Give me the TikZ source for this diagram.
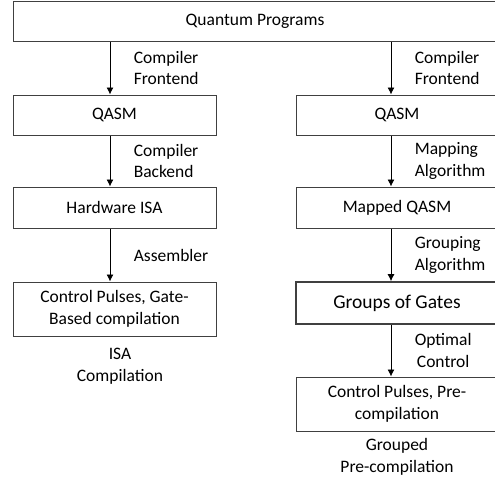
\documentclass[tikz,border=0pt]{standalone}
\usepackage{fontspec}
\setmainfont{Carlito}
\usetikzlibrary{arrows.meta}
\definecolor{edgegray}{HTML}{404040}
\tikzset{
	box/.style={draw=edgegray, line width=1pt, minimum height=40pt, inner sep=0pt, align=center,
		font=\fontsize{17.5}{21.5}\selectfont},
	flow/.style={draw=black, line width=0.9pt, -{Latex[length=7pt,width=7pt]}},
	steplabel/.style={midway, right=20pt, align=left, font=\fontsize{17.5}{21.5}\selectfont}
}

\begin{document}
\begin{tikzpicture}[x=1pt, y=-1pt]
			%%%%% START %%%%%
			\useasboundingbox (0, 0) rectangle (495, 480);
			\clip (0, 0) rectangle (495, 480);
			
			\node[box, minimum width=484pt] (prog) at (255, 21) {Quantum Programs};
			
			% ISA compilation
			\node[box, minimum width=203pt] (qasmL) at (114.5, 115) {QASM};
			\node[box, minimum width=203pt, minimum height=41pt] (isaL) at (114.5, 207.5) {Hardware ISA};
			\node[box, minimum width=203pt, minimum height=54pt] (pulseL) at (114.5, 309) {Control Pulses, Gate-\\Based compilation};
			\node[align=center, font=\fontsize{17.5}{21.5}\selectfont] (isacomp) at (120, 366) {ISA\\Compilation};
			
			% grouped pre-compilation
			\node[box, minimum width=202pt] (qasmR) at (397, 115) {QASM};
			\node[box, minimum width=202pt, minimum height=41pt] (mapR) at (397, 207.5) {Mapped QASM};
			\node[box, minimum width=202pt, minimum height=42pt, line width=1.6pt,
				font=\fontsize{19.5}{23}\selectfont] (groupsR) at (397, 303) {Groups of Gates};
			\node[box, minimum width=202pt, minimum height=54pt] (pulseR) at (397, 404) {Control Pulses, Pre-\\compilation};
			\node[align=center, font=\fontsize{17.5}{21.5}\selectfont] (grpcomp) at (397, 457) {Grouped\\Pre-compilation};
			
			\draw[flow] ([xshift=-4.5pt]qasmL.north |- prog.south) -- ([xshift=-4.5pt]qasmL.north)
				node[steplabel] {Compiler\\Frontend};
			\draw[flow] ([xshift=-4.5pt]qasmL.south) -- ([xshift=-4.5pt]isaL.north)
				node[steplabel] {Compiler\\Backend};
			\draw[flow] ([xshift=-4.5pt]isaL.south) -- ([xshift=-4.5pt]pulseL.north)
				node[steplabel] {Assembler};
			
			\draw[flow] ([xshift=-6pt]qasmR.north |- prog.south) -- ([xshift=-6pt]qasmR.north)
				node[steplabel] {Compiler\\Frontend};
			\draw[flow] ([xshift=-6pt]qasmR.south) -- ([xshift=-6pt]mapR.north)
				node[steplabel] {Mapping\\Algorithm};
			\draw[flow] ([xshift=-6pt]mapR.south) -- ([xshift=-6pt]groupsR.north)
				node[steplabel] {Grouping\\Algorithm};
			\draw[flow] ([xshift=-6pt]groupsR.south) -- ([xshift=-6pt]pulseR.north)
				node[steplabel, align=center] {Optimal\\Control};
			%%%%% END %%%%%
		\end{tikzpicture}
\end{document}
